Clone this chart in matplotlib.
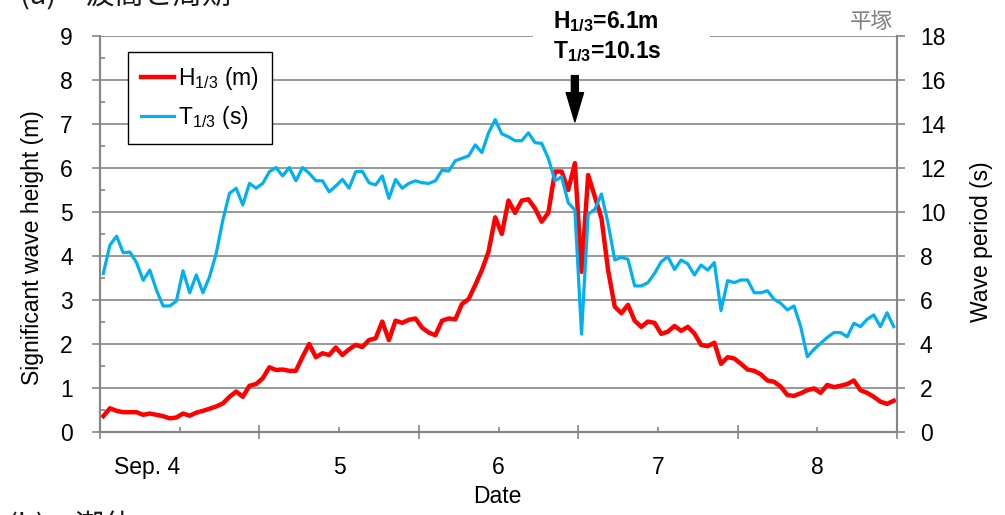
import numpy as np
import matplotlib
matplotlib.use("Agg")
import matplotlib.pyplot as plt
from matplotlib.patches import Rectangle

plt.rcParams["font.family"] = ["Liberation Sans", "Noto Sans CJK JP"]
plt.rcParams["mathtext.fontset"] = "custom"
plt.rcParams["mathtext.rm"] = "Liberation Sans"
plt.rcParams["mathtext.bf"] = "Liberation Sans:bold"

# hourly values, Sep 4 00:00 - Sep 9 00:00
hours = np.arange(120) + 0.5

wave_height = [
    0.36, 0.54, 0.48, 0.45, 0.45, 0.45, 0.39, 0.42, 0.39, 0.36,
    0.31, 0.33, 0.42, 0.37, 0.44, 0.48, 0.53, 0.58, 0.65, 0.80,
    0.92, 0.80, 1.05, 1.09, 1.22, 1.47, 1.41, 1.42, 1.39, 1.39,
    1.71, 2.00, 1.70, 1.79, 1.75, 1.92, 1.75, 1.88, 1.98, 1.93,
    2.09, 2.13, 2.51, 2.09, 2.53, 2.48, 2.55, 2.58, 2.37, 2.26,
    2.20, 2.53, 2.58, 2.56, 2.91, 3.02, 3.34, 3.68, 4.10, 4.88,
    4.50, 5.26, 4.98, 5.26, 5.29, 5.08, 4.78, 4.98, 5.92, 5.92,
    5.50, 6.11, 3.64, 5.84, 5.35, 4.86, 3.68, 2.85, 2.70, 2.89,
    2.53, 2.39, 2.51, 2.48, 2.23, 2.28, 2.41, 2.30, 2.39, 2.24,
    1.98, 1.95, 2.03, 1.55, 1.70, 1.67, 1.55, 1.42, 1.39, 1.31,
    1.17, 1.14, 1.03, 0.84, 0.82, 0.88, 0.95, 0.99, 0.89, 1.07,
    1.02, 1.05, 1.09, 1.17, 0.95, 0.89, 0.80, 0.69, 0.64, 0.71,
]

wave_period = [
    7.21, 8.50, 8.90, 8.15, 8.18, 7.70, 6.90, 7.36, 6.45, 5.73,
    5.73, 5.95, 7.33, 6.33, 7.14, 6.33, 7.06, 8.12, 9.64, 10.85,
    11.08, 10.32, 11.30, 11.08, 11.30, 11.83, 12.02, 11.64, 12.02, 11.42,
    12.02, 11.76, 11.42, 11.42, 10.92, 11.18, 11.48, 11.08, 11.83, 11.85,
    11.33, 11.23, 11.64, 10.62, 11.48, 11.08, 11.30, 11.42, 11.33, 11.30,
    11.42, 11.90, 11.86, 12.33, 12.44, 12.55, 13.05, 12.70, 13.60, 14.20,
    13.55, 13.42, 13.24, 13.24, 13.60, 13.15, 13.12, 12.44, 11.42, 11.60,
    10.42, 10.09, 4.45, 9.91, 10.12, 10.82, 9.48, 7.82, 7.94, 7.85,
    6.64, 6.64, 6.79, 7.21, 7.74, 7.97, 7.39, 7.82, 7.64, 7.14,
    7.59, 7.36, 7.70, 5.52, 6.88, 6.79, 6.91, 6.91, 6.33, 6.33,
    6.42, 6.03, 5.85, 5.55, 5.73, 4.79, 3.42, 3.76, 4.03, 4.30,
    4.52, 4.52, 4.33, 4.94, 4.79, 5.12, 5.32, 4.79, 5.42, 4.79,
]

day_labels = ["Sep. 4", "5", "6", "7", "8"]
peak_hour = 71.5
peak_text = "$\\mathbf{H_{1/3}}$=6.1m\n$\\mathbf{T_{1/3}}$=10.1s"

GRAY = "#868686"
FS = 16.5

fig = plt.figure(figsize=(10.05, 5.15), dpi=100)
ax = fig.add_axes([100 / 1005, 1 - 432 / 515, 797 / 1005, 396 / 515])
ax2 = ax.twinx()

h_line, = ax.plot(hours, wave_height, color="#ff0000", lw=3.2,
                  solid_joinstyle="round", label="H$_{1/3}$ (m)")
t_line, = ax2.plot(hours, wave_period, color="#00b0f0", lw=2.3,
                   solid_joinstyle="round", label="T$_{1/3}$ (s)")

ax.set_xlim(0, 120)
ax.set_ylim(0, 9)
ax2.set_ylim(0, 18)

ax.set_yticks(np.arange(0, 10, 1))
ax.set_yticks(np.arange(0.5, 9, 1), minor=True)
ax2.set_yticks(np.arange(0, 19, 2))
ax.set_xticks(np.arange(0, 121, 24))
ax.set_xticks(np.arange(12, 120, 24), minor=True)
ax.set_xticklabels([])
ax.set_xticklabels(day_labels, minor=True)
ax.get_xticklabels(minor=True)[0].set_ha("right")

ax.grid(axis="y", which="major", color=GRAY, lw=1.2)
ax.set_axisbelow(True)

for a in (ax, ax2):
    a.spines["top"].set_visible(False)
    for side in ("left", "right", "bottom"):
        a.spines[side].set_color(GRAY)
        a.spines[side].set_linewidth(1.5)

ax.tick_params(axis="y", which="major", direction="out", length=5.5, width=1.2,
               color=GRAY, labelsize=FS, pad=14)
ax.tick_params(axis="y", which="minor", direction="in", length=3.6, width=1.2, color=GRAY)
ax.tick_params(axis="x", which="major", direction="inout", length=10, width=1.2, color=GRAY)
ax.tick_params(axis="x", which="minor", direction="in", length=3.6, width=1.2,
               color=GRAY, labelsize=FS, pad=17)
ax2.tick_params(axis="y", direction="out", length=5.5, width=1.2, color=GRAY,
                labelsize=FS, pad=11)

ax.set_ylabel("Significant wave height (m)", fontsize=FS)
ax.yaxis.set_label_coords(-0.070, 0.465)
ax2.set_ylabel("Wave period (s)", fontsize=FS)
ax2.yaxis.set_label_coords(1.091, 0.48)
ax.set_xlabel("Date", fontsize=FS)
ax.xaxis.set_label_coords(0.498, -0.134)

leg = ax2.legend([h_line, t_line], [h_line.get_label(), t_line.get_label()],
                 loc="upper left", bbox_to_anchor=(128 / 1005, 1 - 52 / 515),
                 bbox_transform=fig.transFigure, fontsize=FS, frameon=True,
                 fancybox=False, edgecolor="black", framealpha=1,
                 borderaxespad=0, borderpad=0.55, handlelength=1.45,
                 handletextpad=0.2, labelspacing=0.55)
leg.get_frame().set_linewidth(1.0)

# break in the top gridline behind the peak label
fig.patches.append(Rectangle((533 / 1005, 1 - 42 / 515), 177 / 1005, 12 / 515,
                             transform=fig.transFigure, facecolor="white",
                             edgecolor="none", zorder=5))
fig.text(553 / 1005, 1 - 9 / 515, peak_text, fontsize=FS, fontweight="bold",
         ha="left", va="top", linespacing=1.25, zorder=6)
ax2.annotate("", xy=(peak_hour, 14.1), xytext=(peak_hour, 16.2),
             arrowprops=dict(facecolor="black", edgecolor="black", width=5,
                             headwidth=12.5, headlength=21))

fig.text(0.867, 1 - 22 / 515, "平塚", fontsize=15.5, color="#7f7f7f",
         family="Noto Sans CJK JP", ha="center", va="center")
fig.text(0.02, 1.007, "(a)\u3000波高と周期", fontsize=21, color="#1a1a1a",
         family=["Noto Sans CJK JP"], ha="left", va="center")
fig.text(0.008, -0.024, "(b)\u3000潮位", fontsize=21, color="#1a1a1a",
         family=["Noto Sans CJK JP"], ha="left", va="center")

fig.savefig("out.png", dpi=100)
